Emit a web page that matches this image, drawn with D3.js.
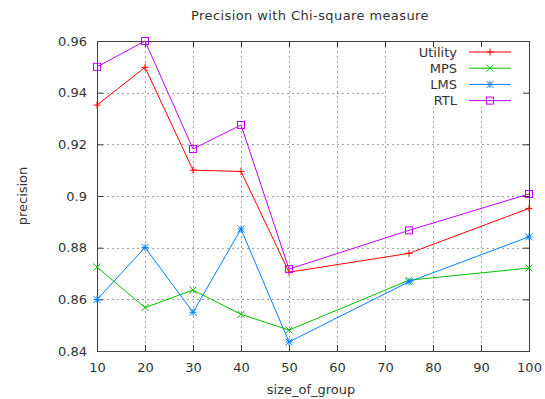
<!DOCTYPE html>
<html>
<head>
<meta charset="utf-8">
<script src="https://cdn.jsdelivr.net/npm/d3@7"></script>
<style>
  body { margin: 0; background: #fff; }
  text { font-family: "DejaVu Sans", sans-serif; fill: #333; }
</style>
</head>
<body>
<div id="chart"></div>
<script>
// group sizes
var sizes = [10, 20, 30, 40, 50, 75, 100];

// precision values per method
var utility = [0.9352, 0.9498, 0.9100, 0.9095, 0.8705, 0.8778, 0.8952];
var mps     = [0.8725, 0.8568, 0.8636, 0.8542, 0.8481, 0.8674, 0.8721];
var lms     = [0.8599, 0.8801, 0.8550, 0.8872, 0.8435, 0.8668, 0.8842];
var rtl     = [0.9500, 0.9600, 0.9182, 0.9275, 0.8717, 0.8867, 0.9008];

var xTicks = [10, 20, 30, 40, 50, 60, 70, 80, 90, 100];
var yTicks = [0.84, 0.86, 0.88, 0.9, 0.92, 0.94, 0.96];

var series = [
  {name: "Utility", values: utility, color: "#ff0000", mark: "plus"},
  {name: "MPS", values: mps, color: "#00c000", mark: "cross"},
  {name: "LMS", values: lms, color: "#0080ff", mark: "star"},
  {name: "RTL", values: rtl, color: "#c000ff", mark: "square"}
];

var W = 545, H = 399;
var margin = {top: 41, right: 16, bottom: 48, left: 97};
var width = W - margin.left - margin.right,
    height = H - margin.top - margin.bottom;

var svg = d3.select("#chart").append("svg")
  .attr("width", W).attr("height", H);

var g = svg.append("g")
  .attr("transform", "translate(" + margin.left + "," + margin.top + ")");

var x = d3.scaleLinear().domain([10, 100]).range([0, width]);
var y = d3.scaleLinear().domain([0.84, 0.96]).range([height, 0]);

// grid
g.append("g").selectAll("line").data(xTicks.slice(1, -1)).enter().append("line")
  .attr("x1", d => Math.round(x(d)) + 0.5).attr("x2", d => Math.round(x(d)) + 0.5)
  .attr("y1", 0).attr("y2", height)
  .attr("stroke", "#a0a0a0").attr("stroke-dasharray", "2,3");
g.append("g").selectAll("line").data(yTicks.slice(1, -1)).enter().append("line")
  .attr("y1", d => Math.round(y(d)) + 0.5).attr("y2", d => Math.round(y(d)) + 0.5)
  .attr("x1", 0).attr("x2", width)
  .attr("stroke", "#a0a0a0").attr("stroke-dasharray", "2,3");

// legend background hides grid
var legX = 290, legY = 6;
g.append("rect").attr("x", legX).attr("y", legY).attr("width", width - legX - 1).attr("height", 60)
  .attr("fill", "#fff");

// axes (inward ticks, mirrored)
function styleAxis(sel) {
  sel.select(".domain").remove();
  sel.selectAll("line").attr("stroke", "#333");
  sel.selectAll("text").style("font-size", "13px").attr("fill", "#333");
}
g.append("g").attr("transform", "translate(0," + height + ")")
  .call(d3.axisBottom(x).tickValues(xTicks).tickSizeInner(-6).tickPadding(12).tickFormat(d3.format("d")))
  .call(styleAxis);
g.append("g")
  .call(d3.axisTop(x).tickValues(xTicks).tickSizeInner(-6).tickFormat(""))
  .call(styleAxis);
g.append("g")
  .call(d3.axisLeft(y).tickValues(yTicks).tickSizeInner(-6).tickPadding(10).tickFormat(d => d3.format("")(+d.toFixed(2))))
  .call(styleAxis);
g.append("g").attr("transform", "translate(" + width + ",0)")
  .call(d3.axisRight(y).tickValues(yTicks).tickSizeInner(-6).tickFormat(""))
  .call(styleAxis);

// frame
g.append("rect").attr("x", 0.5).attr("y", 0.5).attr("width", width).attr("height", height)
  .attr("fill", "none").attr("stroke", "#404040");

// marker drawing
function marker(sel, kind, color) {
  var s = 3.5;
  if (kind === "plus" || kind === "star") {
    sel.append("path").attr("d", "M" + -s + ",0H" + s + "M0," + -s + "V" + s);
  }
  if (kind === "cross" || kind === "star") {
    sel.append("path").attr("d", "M" + -s + "," + -s + "L" + s + "," + s + "M" + -s + "," + s + "L" + s + "," + -s);
  }
  if (kind === "square") {
    sel.append("rect").attr("x", -s).attr("y", -s).attr("width", 2 * s).attr("height", 2 * s).attr("fill", "none");
  }
  sel.selectAll("path, rect").attr("stroke", color).attr("stroke-width", 1).attr("fill", "none");
}

var line = d3.line().x((d, i) => x(sizes[i])).y(d => y(d));

series.forEach(function(s) {
  g.append("path").datum(s.values)
    .attr("d", line)
    .attr("fill", "none").attr("stroke", s.color).attr("stroke-width", 1);
  s.values.forEach(function(v, i) {
    var m = g.append("g").attr("transform", "translate(" + x(sizes[i]) + "," + y(v) + ")");
    marker(m, s.mark, s.color);
  });
});

// legend
series.forEach(function(s, i) {
  var ly = 11 + i * 16.2;
  g.append("text").attr("x", 360).attr("y", ly).attr("dy", "0.35em")
    .attr("text-anchor", "end").style("font-size", "13px").text(s.name);
  g.append("line").attr("x1", 372).attr("x2", 414).attr("y1", ly).attr("y2", ly)
    .attr("stroke", s.color);
  var m = g.append("g").attr("transform", "translate(393," + ly + ")");
  marker(m, s.mark, s.color);
});

// titles
svg.append("text").attr("x", 310).attr("y", 20).attr("text-anchor", "middle")
  .style("font-size", "13px").style("letter-spacing", "0.4px").text("Precision with Chi-square measure");
svg.append("text").attr("x", 311).attr("y", 394).attr("text-anchor", "middle")
  .style("font-size", "13px").text("size_of_group");
svg.append("text").attr("transform", "translate(27,196) rotate(-90)").attr("text-anchor", "middle")
  .style("font-size", "13px").text("precision");
</script>
</body>
</html>
